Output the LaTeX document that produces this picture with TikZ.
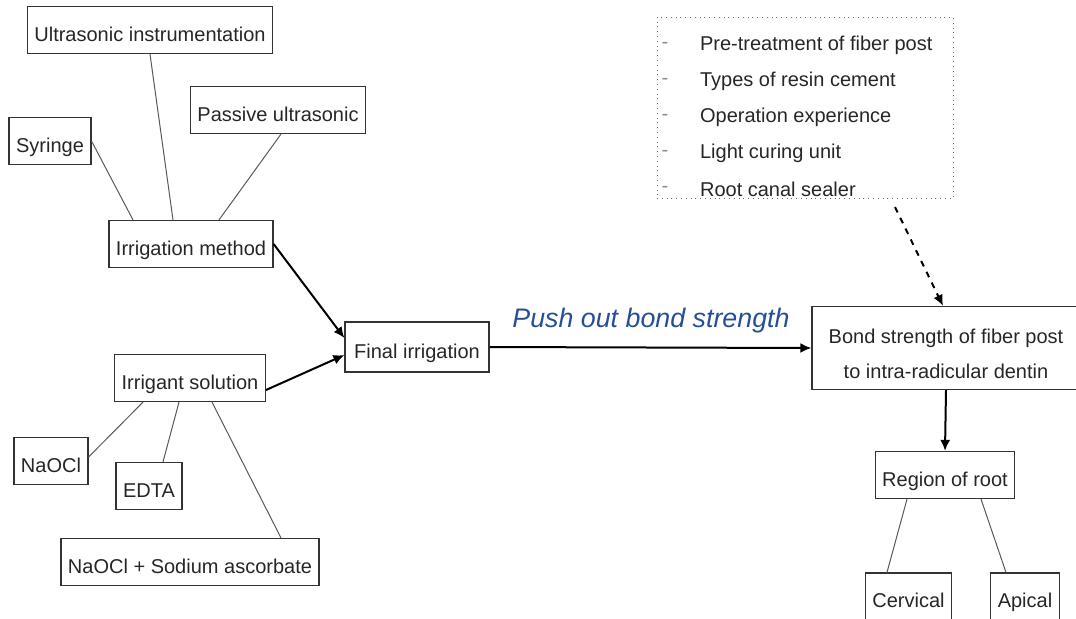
\documentclass[tikz,border=0pt]{standalone}
\usepackage{fontspec}
\setmainfont{Liberation Sans}
\usepackage{tikz}
\usetikzlibrary{arrows.meta}
\definecolor{pushblue}{RGB}{38,78,152}

\begin{document}
\begin{tikzpicture}[x=0.5pt, y=-0.5pt,
  every node/.style={font=\fontsize{10}{12}\selectfont, text=black!85},
  box/.style={draw=black!80, line width=0.6pt, inner xsep=3.5pt, minimum height=23.5pt,
              text height=11.5pt, text depth=0.5pt},
  link/.style={draw=black!65, line width=0.5pt},
  arrow/.style={draw=black, line width=1pt, -{Latex[length=5.5pt,width=5pt]}}]

  % Define frame
  \useasboundingbox (0,0) rectangle (1076,618);
  \clip (0,0) rectangle (1076,618);

  % Irrigation method branch
  \node[box] (ultra) at (150,30) {Ultrasonic instrumentation};
  \node[box] (syringe) at (50,141) {Syringe};
  \node[box] (passive) at (278,110) {Passive ultrasonic};
  \node[box] (method) at (191,244) {Irrigation method};

  % Irrigant solution branch
  \node[box] (solution) at (190,378) {Irrigant solution};
  \node[box] (naocl) at (51,461) {NaOCl};
  \node[box] (edta) at (149,486) {EDTA};
  \node[box] (ascorbate) at (190,562) {NaOCl + Sodium ascorbate};

  % Main chain
  \node[box, minimum height=25pt, minimum width=72pt] (final) at (417,347) {Final irrigation};
  \node[box, text height=, text depth=, minimum width=134pt, minimum height=41.5pt, align=center,
        font=\fontsize{10}{17.5}\selectfont] (bond) at (946,348)
        {\rule{0pt}{13pt}Bond strength of fiber post\\to intra-radicular dentin};
  \node[box] (region) at (945,475) {Region of root};
  \node[box] (cervical) at (908.5,596.5) {Cervical};
  \node[box] (apical) at (1025,596.5) {Apical};

  % Other factors
  \node[draw=black!60, dotted, minimum width=148pt, minimum height=90.5pt] (factors) at (805,107.5) {};
  \foreach \txt [count=\i] in {Pre-treatment of fiber post, Types of resin cement,
      Operation experience, Light curing unit, Root canal sealer} {
    \node[text=black!45] (dash\i) at (665,{9+36*\i}) {-};
    \node[anchor=west] (item\i) at (693,{9+36*\i}) {\txt};
  }

  % Label on main arrow
  \node[font=\fontsize{13.4}{16}\selectfont\itshape, text=pushblue] (label) at (651,321) {Push out bond strength};

  % Links to irrigation method
  \draw[link] (ultra.south) -- ([xshift=-9pt]method.north);
  \draw[link] (syringe.east) -- ([xshift=-29pt]method.north);
  \draw[link] ([xshift=1.5pt]passive.south) -- ([xshift=14pt]method.north);

  % Links to irrigant solution
  \draw[link] ([xshift=-23.5pt]solution.south) -- ([yshift=2pt]naocl.east);
  \draw[link] ([xshift=-5.5pt]solution.south) -- ([xshift=7pt]edta.north);
  \draw[link] ([xshift=11pt]solution.south) -- ([xshift=45.5pt]ascorbate.north);

  % Arrows
  \draw[arrow] (method.east) -- ([yshift=4.5pt]final.west);
  \draw[arrow] ([yshift=-6pt]solution.east) -- ([yshift=-4pt]final.west);
  \draw[arrow] (final.east) -- (bond.west);
  \coordinate (dashstart) at (895,207);
  \draw[arrow, dashed] (dashstart) -- ([xshift=-1.5pt]bond.north);
  \draw[arrow] (bond.south) -- (region.north);

  % Links to region of root
  \draw[link] ([xshift=-19pt]region.south) -- ([xshift=-10.75pt]cervical.north);
  \draw[link] ([xshift=18pt]region.south) -- ([xshift=-9.5pt]apical.north);
\end{tikzpicture}
\end{document}
